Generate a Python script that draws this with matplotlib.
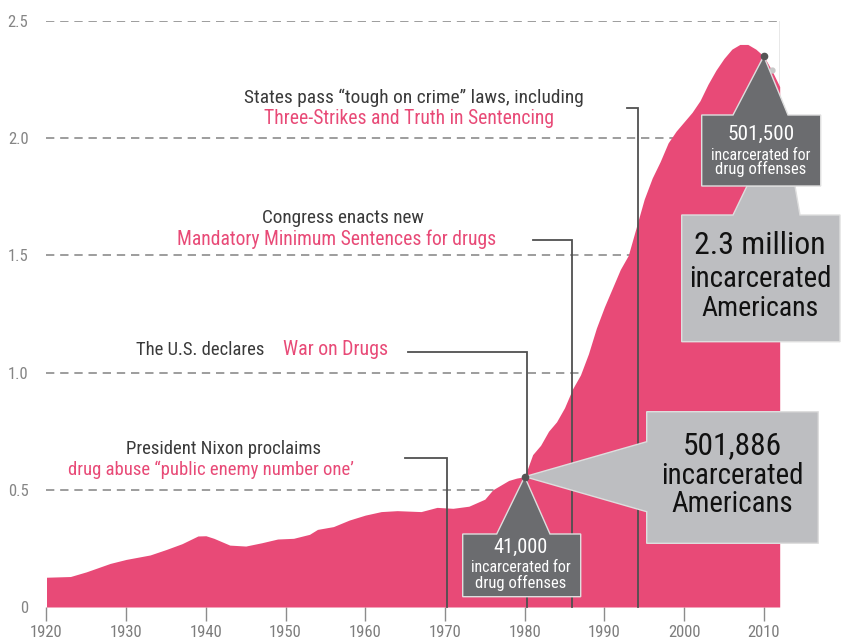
import matplotlib
matplotlib.use("Agg")
from matplotlib import pyplot as plt
from matplotlib.patches import Polygon
from matplotlib.transforms import Affine2D

plt.rcParams["font.family"] = ["Roboto Condensed", "Liberation Sans Narrow",
                               "Roboto", "DejaVu Sans"]

W, H = 853, 644

PINK = "#e84a77"
DARK_BOX = "#6b6c6f"
LIGHT_BOX = "#bdbec1"
GRID = "#8c8c8c"
TEXT = "#3a3a3a"
LEADER = "#505050"

# incarcerated Americans, millions
YEARS = [1920, 1923, 1925, 1928, 1930, 1933, 1935, 1937, 1939, 1940,
         1941, 1943, 1945, 1947, 1949, 1951, 1953, 1954, 1956, 1958,
         1960, 1962, 1964, 1967, 1969, 1971, 1973, 1975, 1976, 1977,
         1978, 1979, 1980, 1981, 1982, 1983, 1984, 1985, 1986, 1987,
         1988, 1989, 1990, 1991, 1992, 1993, 1994, 1995, 1996, 1997,
         1998, 1999, 2000, 2001, 2002, 2003, 2004, 2005, 2006, 2007,
         2008, 2009, 2010, 2011, 2012]
INMATES_M = [0.127, 0.130, 0.150, 0.186, 0.203, 0.222, 0.245, 0.270, 0.303, 0.304,
             0.293, 0.264, 0.260, 0.274, 0.290, 0.293, 0.310, 0.331, 0.343, 0.371,
             0.392, 0.407, 0.411, 0.407, 0.425, 0.421, 0.430, 0.460, 0.500, 0.520,
             0.540, 0.550, 0.556, 0.650, 0.690, 0.750, 0.790, 0.850, 0.930, 0.990,
             1.080, 1.190, 1.280, 1.360, 1.440, 1.500, 1.620, 1.740, 1.830, 1.900,
             1.980, 2.030, 2.070, 2.110, 2.160, 2.230, 2.290, 2.340, 2.380, 2.400,
             2.400, 2.380, 2.350, 2.290, 2.220]

X_TICKS = list(range(1920, 2011, 10))
Y_TICKS = [0, 0.5, 1.0, 1.5, 2.0, 2.5]
Y_LABELS = ["0", "0.5", "1.0", "1.5", "2.0", "2.5"]

EVENT_YEARS = [1970.3, 1980.3, 1986.0, 1994.2]
CALLOUT_YEARS = [1980, 2010]

fig = plt.figure(figsize=(W / 100, H / 100), dpi=100)
ax = fig.add_axes([46.5 / W, (H - 607) / H, (779.7 - 46.5) / W, 586 / H])
ax.set_xlim(1920, 2012)
ax.set_ylim(0, 2.5)
for s in ax.spines.values():
    s.set_visible(False)

# pixel coords, origin top-left
PX = Affine2D().scale(1 / W, -1 / H).translate(0, 1) + fig.transFigure
renderer = fig.canvas.get_renderer()


def to_px(x, y):
    d = ax.transData.transform((x, y))
    return d[0], H - d[1]


def px_to_data(px, py):
    return ax.transData.inverted().transform((px, H - py))


def label(x, y, s, width, size, ha="center", **kw):
    # shrink the text if it runs wider than the reference
    t = ax.text(x, y, s, transform=PX, ha=ha, va="center", fontsize=size,
                clip_on=False, **kw)
    w = t.get_window_extent(renderer).width
    if w > width:
        t.set_fontsize(size * width / w)
    return t


for v in Y_TICKS[1:]:
    ax.plot([1920, 2012], [v, v], ls=(0, (5, 3.5)), color=GRID, lw=1.2, zorder=1)
ax.plot([2012, 2012], [2.5, INMATES_M[-1]], color=GRID, lw=1, zorder=1)

ax.fill_between(YEARS, INMATES_M, color=PINK, lw=0, zorder=2)

ax.set_xticks(X_TICKS)
ax.set_yticks(Y_TICKS)
ax.set_yticklabels(Y_LABELS)
ax.tick_params(axis="x", length=10, width=1, color=GRID, labelsize=12,
               labelcolor="#7d7d7d", pad=3)
ax.tick_params(axis="y", length=0, labelsize=12, labelcolor="#858585", pad=13)

# leader lines: from the end of the text over to the event year, then down
leader_starts = [(405, 457.7), (408, 351.7), (533, 240), (626.8, 108.3)]
for (sx, sy), yr in zip(leader_starts, EVENT_YEARS):
    xx, yy = px_to_data(sx, sy)
    ax.plot([xx, yr, yr], [yy, yy, 0], color=LEADER, lw=1.3, zorder=3,
            clip_on=False, solid_joinstyle="miter")

# annotation texts
label(414, 98, "States pass \u201ctough on crime\u201d laws, including", 339, 14.5, color=TEXT)
label(409, 118, "Three-Strikes and Truth in Sentencing", 290, 14.5, color=PINK)
label(343, 218, "Congress enacts new", 162, 14.5, color=TEXT)
label(337, 239, "Mandatory Minimum Sentences for drugs", 319, 14.5, color=PINK)
label(136, 350, "The U.S. declares", 128, 14.5, ha="left", color=TEXT)
label(283, 350, "War on Drugs", 105, 14.5, ha="left", color=PINK)
label(224, 449, "President Nixon proclaims", 201, 13.5, color=TEXT)
label(211, 470, "drug abuse \u201cpublic enemy number one\u2019", 304, 13.5, color=PINK)

# callouts
v1980 = INMATES_M[YEARS.index(CALLOUT_YEARS[0])]
v2010 = INMATES_M[YEARS.index(CALLOUT_YEARS[1])]
a1 = to_px(CALLOUT_YEARS[0], v1980)
a2 = to_px(CALLOUT_YEARS[1], v2010)

light_1980 = [(646.7, 411.7), (818.3, 411.7), (818.3, 543.3), (646.7, 543.3),
              (646.7, 511.7), a1, (646.7, 441.7)]
dark_1980 = [(462.7, 534), (496.7, 534), a1, (550, 534), (580.7, 534),
             (580.7, 596.7), (462.7, 596.7)]
light_2010 = [(681.7, 215), (733, 215), (747, 186), (795, 186), (800, 215),
              (840, 215), (840, 341.7), (681.7, 341.7)]
dark_2010 = [(701.7, 115), (733, 115), a2, (788, 115), (820.7, 115),
             (820.7, 186), (701.7, 186)]

for pts, fc, z in [(light_1980, LIGHT_BOX, 5), (dark_1980, DARK_BOX, 6),
                   (light_2010, LIGHT_BOX, 5), (dark_2010, DARK_BOX, 6)]:
    ax.add_patch(Polygon(pts, closed=True, transform=PX, facecolor=fc,
                         edgecolor="#dedede", lw=1, zorder=z, clip_on=False))

big = dict(color="#111111", zorder=8)
label(732, 446, "501,886", 100, 23, **big)
label(732, 476, "incarcerated", 143, 23, **big)
label(732, 504, "Americans", 122, 23, **big)

label(760, 245, "2.3 million", 132, 23, **big)
label(760, 279, "incarcerated", 143, 23, **big)
label(760, 309, "Americans", 118, 23, **big)

small = dict(color="white", zorder=8)
label(521, 547, "41,000", 55, 15.5, **small)
label(521, 568, "incarcerated for", 100, 12, **small)
label(521, 583, "drug offenses", 92, 12, **small)

label(761, 134, "501,500", 67, 16.5, **small)
label(761, 155, "incarcerated for", 99, 12, **small)
label(761, 169, "drug offenses", 92, 12, **small)

ax.plot(CALLOUT_YEARS, [v1980, v2010], "o", color="#555555", ms=4.5, zorder=9,
        clip_on=False)
ax.plot([2011], [INMATES_M[YEARS.index(2011)]], "o", color="#c8c8c8", ms=3.5,
        zorder=4, clip_on=False)

fig.savefig("out.png", dpi=100)
